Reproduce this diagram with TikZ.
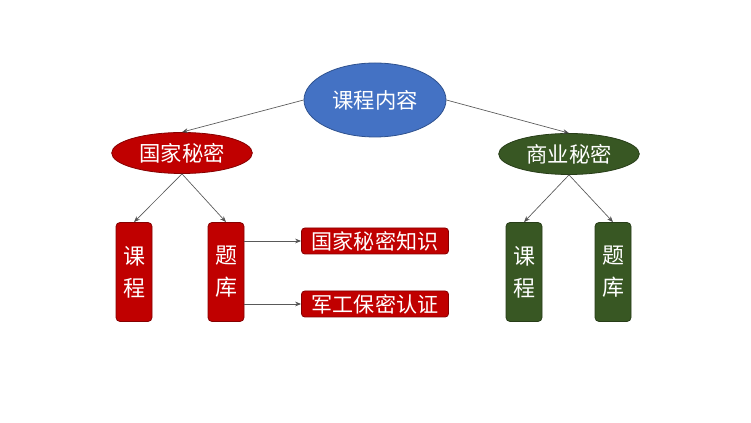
\documentclass[tikz,border=0pt]{standalone}
\usepackage{fontspec}
\setmainfont{Noto Sans CJK SC}
\usetikzlibrary{shapes.geometric,arrows.meta}

\definecolor{topblue}{HTML}{4472C4}
\definecolor{topedge}{HTML}{2F528F}
\definecolor{secred}{HTML}{C00000}
\definecolor{bizgreen}{HTML}{385723}

\tikzset{every picture/.style={line width=0.75pt}}
\tikzset{
  topnode/.style={ellipse,fill=topblue,draw=topedge,line width=0.6pt,text=white,inner sep=0pt,
    minimum width=106.5pt,minimum height=55.5pt,font=\fontsize{16}{18}\selectfont},
  midnode/.style={ellipse,draw=#1!70!black,fill=#1,line width=0.6pt,text=white,inner sep=0pt,
    minimum width=105.5pt,minimum height=30.75pt,font=\fontsize{16}{18}\selectfont},
  tallbox/.style={rectangle,rounded corners=3pt,draw=#1!70!black,fill=#1,line width=0.6pt,text=white,
    inner sep=0pt,minimum width=27pt,minimum height=74.25pt,align=center,
    font=\fontsize{16.5}{24}\selectfont},
  widebox/.style={rectangle,rounded corners=2.5pt,draw=secred!70!black,fill=secred,line width=0.6pt,
    text=white,inner sep=0pt,minimum width=110.25pt,minimum height=19.5pt,
    font=\fontsize{15.8}{18}\selectfont},
  link/.style={draw=black!65,line width=0.5pt,-{Stealth[length=4.5pt,width=3.5pt,fill=black]}}
}

\begin{document}
\begin{tikzpicture}[x=0.75pt,y=0.75pt,yscale=-1,xscale=1]
%set diagram size 751 x 423
\path[use as bounding box,fill=white] (0,0) rectangle (751,423);
%Shape: Ellipse Top
\node[topnode] (top) at (375,100) {课程内容};
%Shape: Ellipse left
\node[midnode=secred] (state) at (182,153) {国家秘密};
%Shape: Ellipse right
\node[midnode=bizgreen] (biz) at (569,154) {商业秘密};
%Shape: Rectangle left
\node[tallbox=secred] (stcourse) at (134,272) {课\\程};
\node[tallbox=secred] (stbank) at (226,272) {题\\库};
%Shape: Rectangle right
\node[tallbox=bizgreen] (bzcourse) at (524,272) {课\\程};
\node[tallbox=bizgreen] (bzbank) at (613,272) {题\\库};
%Shape: Rectangle wide
\node[widebox] (know) at (375,241) {国家秘密知识};
\node[widebox] (cert) at (375,304) {军工保密认证};
%Arrows
\draw[link] (top.west) -- (state.north);
\draw[link] (top.east) -- (biz.north);
\draw[link] (state.south) -- (stcourse.north);
\draw[link] (state.south) -- (stbank.north);
\draw[link] (biz.south) -- (bzcourse.north);
\draw[link] (biz.south) -- (bzbank.north);
\draw[link] (stbank.east |- know.west) -- (know.west);
\draw[link] (stbank.east |- cert.west) -- (cert.west);

\end{tikzpicture}
\end{document}
